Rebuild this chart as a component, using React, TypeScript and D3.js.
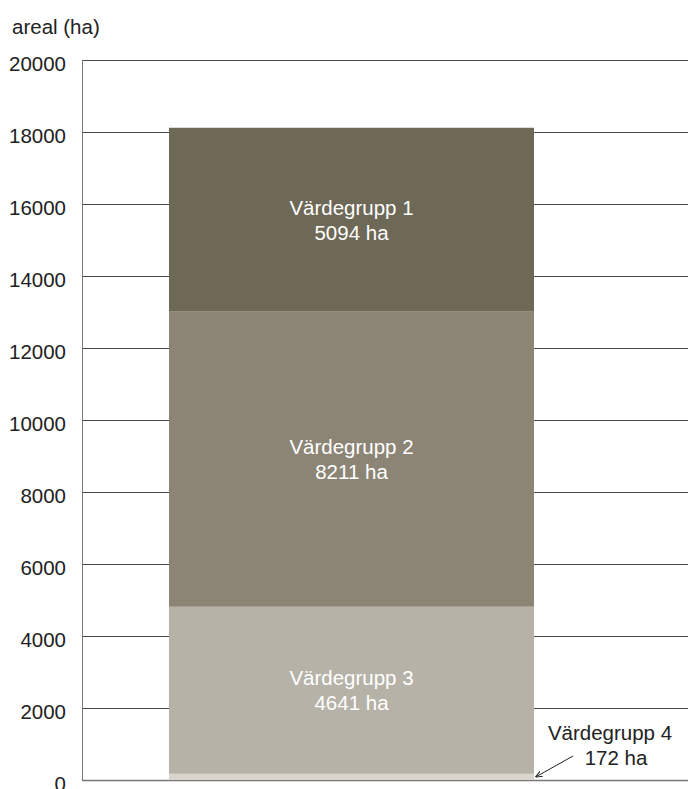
import * as d3 from 'd3';
import { useEffect, useRef } from 'react';

const groups = ['Värdegrupp 4', 'Värdegrupp 3', 'Värdegrupp 2', 'Värdegrupp 1'];
const areas = [172, 4641, 8211, 5094];
const colors = ['#d8d5cd', '#b6b2a7', '#8c8576', '#6e6856'];
const yTicks = [0, 2000, 4000, 6000, 8000, 10000, 12000, 14000, 16000, 18000, 20000];

export default function App() {
  const ref = useRef<SVGSVGElement>(null);

  useEffect(() => {
    document.body.style.margin = '0';
    const width = 688;
    const height = 789;
    const svg = d3.select(ref.current);
    svg.selectAll('*').remove();
    svg.attr('width', width).attr('height', height);

    const font = 'Liberation Sans, Arial, sans-serif';
    const fs = '20.5px';
    const left = 82;
    const y = d3.scaleLinear().domain([0, 20000]).range([780, 60]);
    const barX0 = 169;
    const barX1 = 534;

    // stacked values, bottom to top
    let acc = 0;
    const stack = areas.map((v, i) => {
      const s = { name: groups[i], v, y0: acc, y1: acc + v, color: colors[i] };
      acc += v;
      return s;
    });

    // grid lines
    svg.append('g')
      .selectAll('line')
      .data(yTicks)
      .enter()
      .append('line')
      .attr('x1', left)
      .attr('x2', width)
      .attr('y1', d => y(d) + 0.5)
      .attr('y2', d => y(d) + 0.5)
      .attr('stroke', d => (d === 0 ? '#777' : '#4a4a4a'))
      .attr('stroke-width', d => (d === 0 ? 1.5 : 1));

    // bars
    svg.append('g')
      .selectAll('rect')
      .data(stack)
      .enter()
      .append('rect')
      .attr('x', barX0)
      .attr('width', barX1 - barX0)
      .attr('y', d => y(d.y1))
      .attr('height', d => y(d.y0) - y(d.y1))
      .attr('fill', d => d.color);

    // y axis line
    svg.append('line')
      .attr('x1', left + 0.5).attr('x2', left + 0.5)
      .attr('y1', y(20000)).attr('y2', y(0) + 1)
      .attr('stroke', '#777')
      .attr('stroke-width', 1);

    // tick labels
    svg.append('g')
      .selectAll('text')
      .data(yTicks)
      .enter()
      .append('text')
      .attr('x', 66)
      .attr('y', d => y(d) + 4)
      .attr('dy', '0.35em')
      .attr('text-anchor', 'end')
      .style('font-family', font)
      .style('font-size', fs)
      .style('fill', '#222')
      .text(d => d);

    svg.append('text')
      .attr('x', 12)
      .attr('y', 27)
      .attr('dy', '0.35em')
      .style('font-family', font)
      .style('font-size', fs)
      .style('fill', '#222')
      .text('areal (ha)');

    // labels inside the bar
    const cx = (barX0 + barX1) / 2;
    const inside = svg.append('g')
      .selectAll('text')
      .data(stack.filter(d => d.v > 1000))
      .enter()
      .append('text')
      .attr('text-anchor', 'middle')
      .style('font-family', font)
      .style('font-size', fs)
      .style('fill', '#fff');
    inside.append('tspan')
      .attr('x', cx)
      .attr('y', d => (y(d.y0) + y(d.y1)) / 2 - 12)
      .attr('dy', '0.35em')
      .text(d => d.name);
    inside.append('tspan')
      .attr('x', cx)
      .attr('y', d => (y(d.y0) + y(d.y1)) / 2 + 13)
      .attr('dy', '0.35em')
      .text(d => `${d.v} ha`);

    // small group label outside with arrow
    const small = stack[0];
    const lab = svg.append('text')
      .attr('text-anchor', 'middle')
      .style('font-family', font)
      .style('font-size', fs)
      .style('fill', '#222');
    lab.append('tspan').attr('x', 610).attr('y', 733).attr('dy', '0.35em').text(small.name);
    lab.append('tspan').attr('x', 616).attr('y', 758).attr('dy', '0.35em').text(`${small.v} ha`);

    const defs = svg.append('defs');
    defs.append('marker')
      .attr('id', 'arrow')
      .attr('viewBox', '0 0 10 10')
      .attr('refX', 9)
      .attr('refY', 5)
      .attr('markerWidth', 7)
      .attr('markerHeight', 7)
      .attr('orient', 'auto')
      .append('path')
      .attr('d', 'M0,1 L10,5 L0,9')
      .attr('fill', 'none')
      .attr('stroke', '#222')
      .attr('stroke-width', 1.5);

    svg.append('line')
      .attr('x1', 573).attr('y1', 756)
      .attr('x2', barX1 + 2).attr('y2', y(small.y1) + 3)
      .attr('stroke', '#222')
      .attr('stroke-width', 1)
      .attr('marker-end', 'url(#arrow)');
  }, []);

  return <svg ref={ref} style={{ display: 'block' }}></svg>;
}
